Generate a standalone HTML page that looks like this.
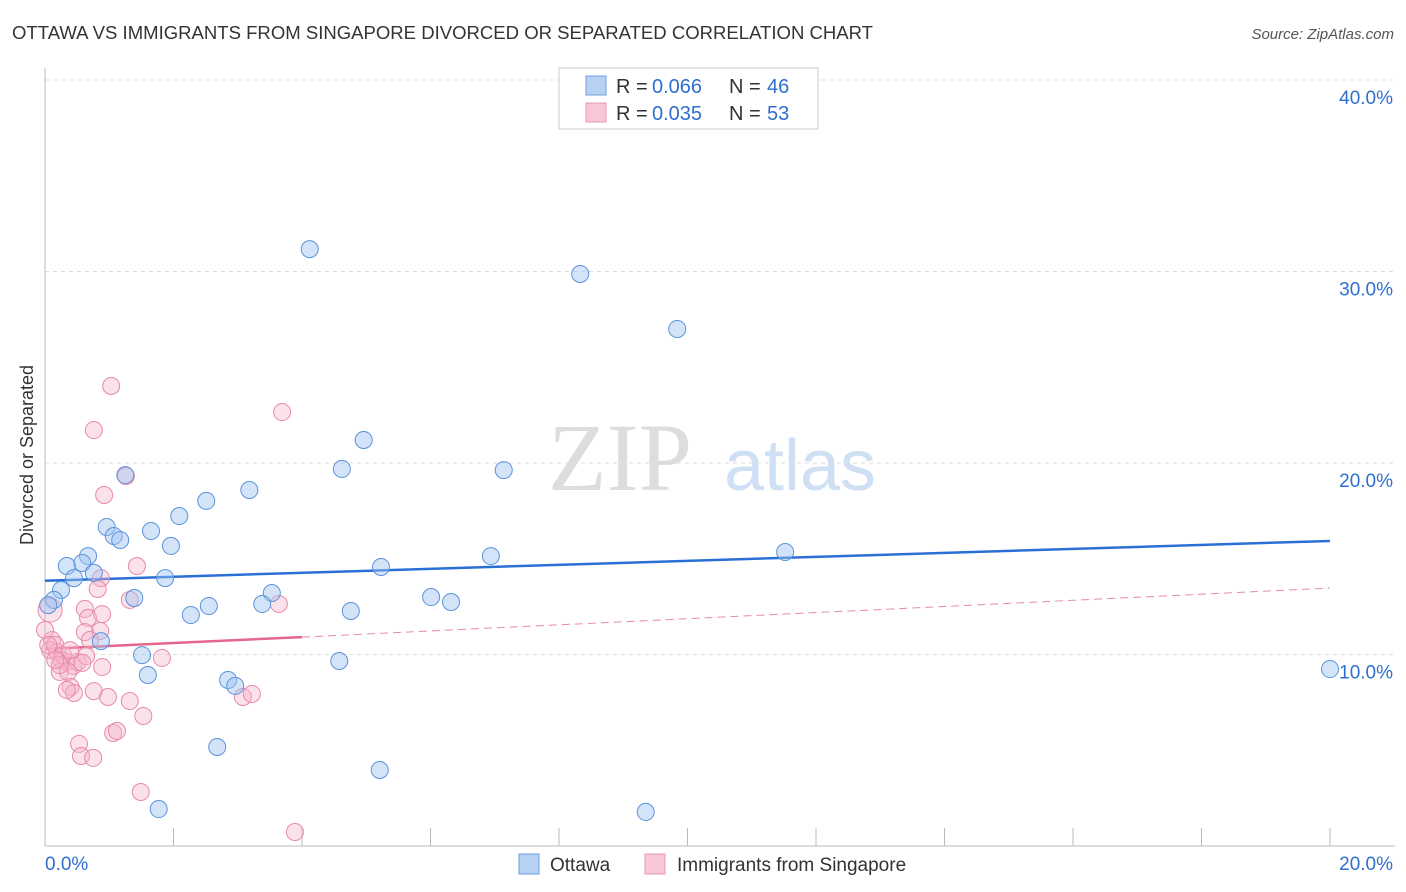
<!DOCTYPE html>
<html><head><meta charset="utf-8"><style>
body{margin:0;background:#fff;font-family:"Liberation Sans",sans-serif;}
svg{display:block}
</style></head><body>
<svg id="chart" width="1406" height="892" xmlns="http://www.w3.org/2000/svg">
<text x="12" y="39" font-size="18" fill="#333" textLength="861" lengthAdjust="spacingAndGlyphs">OTTAWA VS IMMIGRANTS FROM SINGAPORE DIVORCED OR SEPARATED CORRELATION CHART</text>
<text x="1394" y="39" font-size="15" fill="#555" font-style="italic" text-anchor="end">Source: ZipAtlas.com</text>
<text x="620" y="490" font-size="96" fill="#ddd" font-family="Liberation Serif,serif" text-anchor="middle">ZIP</text>
<text x="800" y="490" font-size="72" fill="#d0e0f4" text-anchor="middle">atlas</text>
<text transform="translate(33,455) rotate(-90)" font-size="18" fill="#333" text-anchor="middle">Divorced or Separated</text>
<g id="grid"></g>
<g id="axes"></g>
<g id="trends"></g>
<g id="points"></g>
<g>
<rect x="559" y="68" width="259" height="61" fill="#fff" stroke="#ccc"/>
<rect x="586" y="76" width="20" height="19" fill="#b8d2f4" stroke="#6d9ee0"/>
<rect x="586" y="103" width="20" height="19" fill="#f9c6d6" stroke="#e89ab2"/>
<text x="616" y="93" font-size="20" fill="#333">R = </text>
<text x="652" y="93" font-size="20" fill="#2f6fcf">0.066</text>
<text x="729" y="93" font-size="20" fill="#333">N = </text>
<text x="767" y="93" font-size="20" fill="#2f6fcf">46</text>
<text x="616" y="120" font-size="20" fill="#333">R = </text>
<text x="652" y="120" font-size="20" fill="#2f6fcf">0.035</text>
<text x="729" y="120" font-size="20" fill="#333">N = </text>
<text x="767" y="120" font-size="20" fill="#2f6fcf">53</text>
</g>
<g>
<rect x="519" y="854" width="20" height="20" fill="#b8d2f4" stroke="#6d9ee0"/>
<text x="550" y="871" font-size="19" fill="#333">Ottawa</text>
<rect x="645" y="854" width="20" height="20" fill="#f9c6d6" stroke="#e89ab2"/>
<text x="677" y="871" font-size="19" fill="#333">Immigrants from Singapore</text>
</g>
</svg>
<script>
const ottawaX=[4.12,8.33,9.84,4.96,4.62,7.14,1.25,3.18,2.51,2.09,1.65,0.96,1.07,1.17,1.96,0.67,6.94,11.52,0.58,0.34,5.23,0.76,0.45,1.87,0.25,3.53,1.39,0.14,6.01,6.32,2.55,3.38,4.76,2.27,0.87,1.51,4.58,20.0,1.60,2.85,2.96,2.68,5.21,1.77,9.35,0.05];
const ottawaY=[31.17,29.87,27.00,21.20,19.69,19.63,19.37,18.59,18.02,17.23,16.45,16.66,16.19,15.98,15.67,15.14,15.14,15.35,14.78,14.62,14.57,14.26,13.99,13.99,13.37,13.21,12.95,12.85,13.00,12.74,12.53,12.64,12.27,12.06,10.70,9.97,9.66,9.24,8.93,8.67,8.36,5.17,3.97,1.93,1.78,12.58];
const singX=[1.03,0.76,3.69,1.26,0.92,1.43,0.87,0.82,1.32,3.64,0.62,0.67,0.89,0.86,0.62,0.08,0.11,0.08,0.19,0.25,0.34,0.44,0.51,0.64,0.89,0.23,0.36,0.40,0.45,0.34,0.76,0.98,1.32,1.53,1.06,1.12,0.53,0.56,0.75,1.49,3.89,1.82,3.08,3.22,0.0,0.16,0.28,0.39,0.58,0.23,0.16,0.70,0.05];
const singY=[24.02,21.72,22.66,19.32,18.33,14.62,13.99,13.42,12.85,12.64,12.38,11.91,12.11,11.23,11.17,12.32,10.76,10.23,10.13,9.71,9.61,9.40,9.61,9.92,9.35,9.09,9.09,8.30,7.99,8.15,8.09,7.78,7.57,6.79,5.90,6.01,5.33,4.70,4.60,2.82,0.73,9.82,7.78,7.94,11.28,10.50,9.97,10.23,9.56,9.45,9.71,10.76,10.50];
const yTicks=[10,20,30,40];
const yTickLabels=["10.0%","20.0%","30.0%","40.0%"];
const xTickLabels=["0.0%","20.0%"];
const ottawaTrend=[13.85,15.93];
const singTrend=[10.29,10.91,13.47];
const NS="http://www.w3.org/2000/svg";
const sx=v=>45+v*64.25, sy=v=>846-v*19.15;
function mk(tag,attrs,parent){const e=document.createElementNS(NS,tag);for(const k in attrs)e.setAttribute(k,attrs[k]);document.getElementById(parent).appendChild(e);return e;}
yTicks.forEach((t,i)=>{
  const l=mk('line',{x1:45,x2:1395,y1:sy(t),y2:sy(t),stroke:'#ddd','stroke-dasharray':'4,4'},'grid');
  
  
  const tx=mk('text',{x:1393,y:sy(t)+24,'font-size':19,fill:'#2f6fcf','text-anchor':'end'},'grid');
  tx.textContent=yTickLabels[i];
  
  
});
let a=mk('line',{x1:45,x2:45,y1:68,y2:846,stroke:'#bbb'},'axes');


a=mk('line',{x1:45,x2:1395,y1:846,y2:846,stroke:'#bbb'},'axes');


for(let i=0;i<=10;i++){const t=mk('line',{x1:sx(i*2),x2:sx(i*2),y1:828,y2:846,stroke:'#bbb'},'axes');

}
let xl=mk('text',{x:45,y:870,'font-size':19,fill:'#2f6fcf'},'axes');xl.textContent=xTickLabels[0];


xl=mk('text',{x:1393,y:870,'font-size':19,fill:'#2f6fcf','text-anchor':'end'},'axes');xl.textContent=xTickLabels[1];


let tl=mk('line',{x1:sx(0),x2:sx(20),y1:sy(ottawaTrend[0]),y2:sy(ottawaTrend[1]),stroke:'#2a6fd6','stroke-width':2.5},'trends');


tl=mk('line',{x1:sx(0),x2:sx(4),y1:sy(singTrend[0]),y2:sy(singTrend[1]),stroke:'#e5668e','stroke-width':2.5},'trends');


tl=mk('line',{x1:sx(4),x2:sx(20),y1:sy(singTrend[1]),y2:sy(singTrend[2]),stroke:'#e88aa8','stroke-width':1,'stroke-dasharray':'8,5'},'trends');


singX.forEach((x,i)=>{const c=mk('circle',{cx:sx(x),cy:sy(singY[i]),r:i==15?12:8.5,fill:'rgba(246,180,202,0.4)',stroke:'#e88aa8','stroke-width':1},'points');

});
ottawaX.forEach((x,i)=>{const c=mk('circle',{cx:sx(x),cy:sy(ottawaY[i]),r:8.5,fill:'rgba(160,196,240,0.45)',stroke:'#5b93dc','stroke-width':1},'points');

});
</script>
</body></html>
